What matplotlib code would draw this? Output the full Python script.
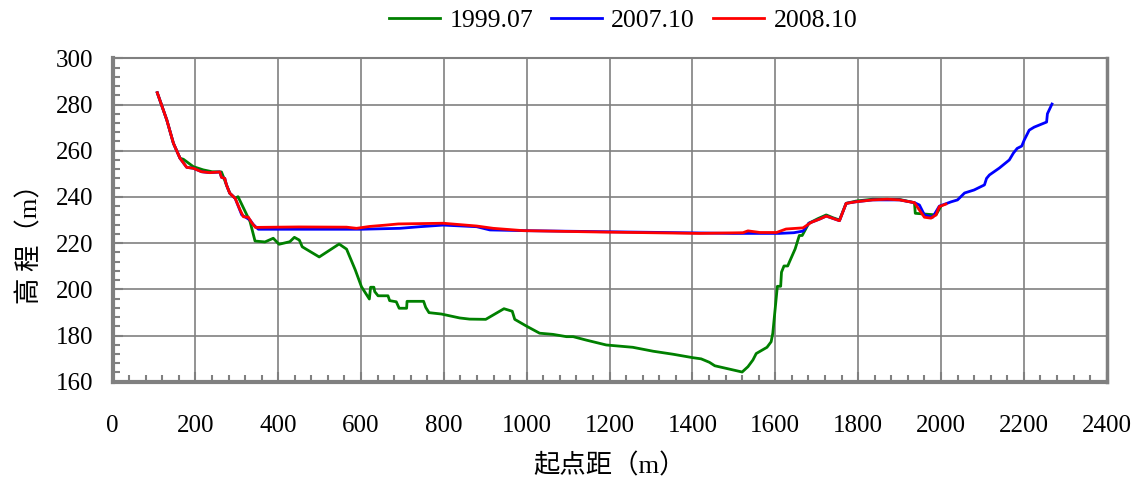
import matplotlib
matplotlib.use('Agg')
from matplotlib import pyplot as plt
from matplotlib.ticker import MultipleLocator

plt.rcParams['font.family'] = ['Liberation Serif', 'Noto Sans CJK SC']

# 1999.07
x1 = [108, 131, 147, 163, 171, 195, 219, 240, 263, 268, 275, 283, 296, 303, 332, 344, 368, 388, 402, 428,
      439, 451, 458, 499, 547, 565, 586, 601, 620, 623, 631, 633, 641, 665, 669, 685, 692, 710, 711, 751,
      756, 764, 794, 838, 862, 901, 945, 965, 971, 999, 1031, 1063, 1096, 1112, 1144, 1192, 1256, 1305, 1353, 1401,
      1421, 1441, 1454, 1498, 1520, 1534, 1546, 1554, 1580, 1590, 1594, 1605, 1613, 1615, 1621, 1630, 1635, 1648, 1658, 1665,
      1681, 1703, 1723, 1739, 1755, 1771, 1795, 1835, 1900, 1936, 1938, 1988, 2000]
y1 = [285.1, 273.3, 263.2, 256.7, 256.3, 253.1, 251.7, 250.9, 250.8, 248.5, 245.2, 241.6, 239.4, 240.1, 229.3, 220.9, 220.5, 222.1, 219.5, 220.6,
      222.5, 221.3, 218.4, 214.0, 219.6, 217.4, 208.4, 201.1, 195.8, 200.9, 200.9, 199.0, 197.2, 197.2, 195.1, 194.6, 191.8, 191.8, 194.8, 194.8,
      192.2, 189.9, 189.3, 187.6, 187.1, 187.0, 191.6, 190.5, 187.0, 184.1, 181.0, 180.5, 179.5, 179.5, 178.0, 175.9, 174.9, 173.2, 171.9, 170.4,
      169.9, 168.4, 166.9, 165.1, 164.2, 166.5, 169.4, 172.2, 174.9, 177.3, 181.0, 201.3, 201.3, 207.4, 210.1, 210.1, 212.2, 217.5, 223.3, 223.3,
      228.6, 230.6, 232.2, 231.0, 230.0, 237.2, 238.2, 239.0, 238.9, 237.5, 232.9, 232.2, 236.0]

# 2007.10
x2 = [108, 131, 147, 163, 179, 195, 215, 235, 259, 263, 271, 275, 283, 296, 312, 332, 340, 352, 600, 694,
      742, 798, 879, 911, 991, 1498, 1610, 1645, 1667, 1681, 1707, 1723, 1739, 1755, 1771, 1795, 1835, 1900, 1936, 1948,
      1960, 1980, 1996, 2025, 2040, 2057, 2080, 2105, 2110, 2117, 2141, 2165, 2175, 2184, 2195, 2201, 2213, 2225, 2255, 2257,
      2268]
y2 = [285.1, 273.3, 263.2, 256.7, 252.8, 252.4, 250.9, 250.5, 250.8, 248.5, 248.0, 245.2, 241.6, 239.4, 232.2, 230.0, 228.0, 226.0, 226.0, 226.4,
      227.1, 227.8, 227.1, 225.7, 225.4, 224.2, 224.2, 224.5, 225.2, 228.6, 230.4, 231.7, 230.7, 229.7, 237.2, 237.9, 238.7, 238.7, 237.5, 236.5,
      232.2, 231.2, 236.0, 237.9, 238.7, 241.7, 243.0, 245.2, 248.0, 249.5, 252.5, 256.0, 259.0, 261.0, 262.0, 264.6, 268.9, 270.2, 272.4, 276.0,
      280.2]

# 2008.10
x3 = [108, 131, 147, 163, 179, 195, 215, 235, 259, 263, 271, 275, 283, 296, 308, 316, 328, 336, 345, 450,
      565, 589, 620, 660, 690, 798, 879, 919, 991, 1176, 1417, 1522, 1534, 1563, 1603, 1626, 1667, 1687, 1707, 1723,
      1739, 1755, 1771, 1795, 1835, 1870, 1900, 1936, 1948, 1960, 1976, 1988, 1996, 2012]
y3 = [285.1, 273.3, 263.2, 256.7, 252.8, 252.4, 250.9, 250.5, 250.8, 248.5, 248.0, 245.2, 241.6, 239.4, 234.3, 231.4, 231.2, 228.8, 226.8, 227.0,
      226.9, 226.4, 227.2, 227.8, 228.3, 228.6, 227.4, 226.4, 225.4, 224.8, 224.2, 224.5, 225.3, 224.6, 224.6, 226.1, 226.6, 229.0, 230.4, 231.7,
      230.7, 229.7, 237.2, 237.9, 238.7, 239.0, 238.7, 237.5, 234.3, 231.2, 230.8, 232.2, 235.8, 236.9]

names = ['1999.07', '2007.10', '2008.10']
colors = ['#008000', '#0000ff', '#ff0000']

fig = plt.figure(figsize=(11.39, 4.83), dpi=100)
ax = fig.add_axes([0.0988, 0.2097, 0.9716 - 0.0988, 0.8793 - 0.2097])

for xs, ys, name, c in zip([x1, x2, x3], [y1, y2, y3], names, colors):
    ax.plot(xs, ys, color=c, lw=2.0, label=name)

ax.set_xlim(0, 2400)
ax.set_ylim(160, 300)
ax.xaxis.set_major_locator(MultipleLocator(200))
ax.xaxis.set_minor_locator(MultipleLocator(40))
ax.yaxis.set_major_locator(MultipleLocator(20))
ax.yaxis.set_minor_locator(MultipleLocator(4))
ax.grid(True, which='major', color='#808080', lw=1.2)
ax.tick_params(which='both', direction='in', color='#808080', labelsize=18)
ax.tick_params(which='major', length=7, width=1.5)
ax.tick_params(which='minor', length=5, width=1.5)
ax.tick_params(axis='x', pad=24)
ax.tick_params(axis='y', pad=14)
for s in ['left', 'bottom']:
    ax.spines[s].set_color('#808080')
    ax.spines[s].set_linewidth(3)
ax.spines['right'].set_color('#808080')
ax.spines['right'].set_linewidth(2.5)
ax.spines['top'].set_color('#808080')
ax.spines['top'].set_linewidth(1.5)

ax.set_xlabel('起点距（m）', fontsize=19, labelpad=12)
ax.set_ylabel('高 程（m）', fontsize=19, rotation=90, va='center', ha='center')
ax.yaxis.set_label_coords(-0.083, 0.444)

fig.legend(loc='center', bbox_to_anchor=(0.547, 0.958), ncol=3, frameon=False, fontsize=18.5,
           handlelength=2.0, handletextpad=0.35, columnspacing=0.7)

fig.savefig('out.png', dpi=100)
